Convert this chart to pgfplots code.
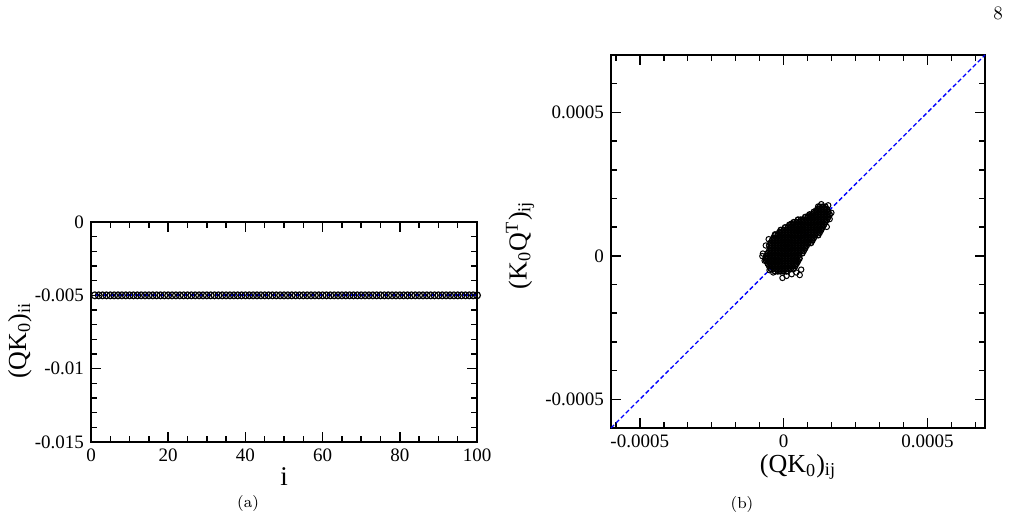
\documentclass[border=0pt]{standalone}
\usepackage{fontspec}
\usepackage{pgfplots}
\pgfplotsset{compat=1.18}
\newfontfamily\tnr{Liberation Serif}

\pgfplotsset{
  panel/.style={
    scale only axis,
    anchor=south west,
    axis line style={line width=0.8pt},
    every tick/.style={black,line width=0.75pt},
    major tick length=5pt,
    minor tick length=2.8pt,
    tick align=inside,
    scaled ticks=false,
    clip=false,
    /pgf/number format/assume math mode=true,
    ticklabel style={font=\tnr\fontsize{9.5}{11}\selectfont},
    label style={font=\tnr\fontsize{13}{15}\selectfont},
  }
}

\begin{document}
\begin{tikzpicture}
\path[use as bounding box] (0pt,0pt) rectangle (505pt,259pt);

% (a) diagonal elements
\begin{axis}[panel,
  at={(45.5pt,38pt)}, width=193pt, height=110pt,
  xmin=0, xmax=100, ymin=-0.015, ymax=0,
  xtick={0,20,40,60,80,100},
  xticklabels={0,20,40,60,80,100},
  minor x tick num=3,
  ytick={-0.015,-0.01,-0.005,0},
  yticklabels={-0.015,-0.01,-0.005,0},
  minor y tick num=4,
  xlabel={i},
  xlabel style={font=\tnr\fontsize{13.5}{15}\selectfont,
    at={(axis description cs:0.5,-0.155)}, anchor=center},
  ylabel={(QK\textsubscript{0})\textsubscript{ii}},
  ylabel style={at={(axis description cs:-0.184,0.46)}, anchor=center},
]
\addplot[only marks, mark=o, mark size=1.7pt, mark options={line width=0.6pt, black}]
coordinates {
(1,-0.005) (2,-0.005) (3,-0.005) (4,-0.005) (5,-0.005) (6,-0.005) (7,-0.005) (8,-0.005) (9,-0.005) (10,-0.005)
(11,-0.005) (12,-0.005) (13,-0.005) (14,-0.005) (15,-0.005) (16,-0.005) (17,-0.005) (18,-0.005) (19,-0.005) (20,-0.005)
(21,-0.005) (22,-0.005) (23,-0.005) (24,-0.005) (25,-0.005) (26,-0.005) (27,-0.005) (28,-0.005) (29,-0.005) (30,-0.005)
(31,-0.005) (32,-0.005) (33,-0.005) (34,-0.005) (35,-0.005) (36,-0.005) (37,-0.005) (38,-0.005) (39,-0.005) (40,-0.005)
(41,-0.005) (42,-0.005) (43,-0.005) (44,-0.005) (45,-0.005) (46,-0.005) (47,-0.005) (48,-0.005) (49,-0.005) (50,-0.005)
(51,-0.005) (52,-0.005) (53,-0.005) (54,-0.005) (55,-0.005) (56,-0.005) (57,-0.005) (58,-0.005) (59,-0.005) (60,-0.005)
(61,-0.005) (62,-0.005) (63,-0.005) (64,-0.005) (65,-0.005) (66,-0.005) (67,-0.005) (68,-0.005) (69,-0.005) (70,-0.005)
(71,-0.005) (72,-0.005) (73,-0.005) (74,-0.005) (75,-0.005) (76,-0.005) (77,-0.005) (78,-0.005) (79,-0.005) (80,-0.005)
(81,-0.005) (82,-0.005) (83,-0.005) (84,-0.005) (85,-0.005) (86,-0.005) (87,-0.005) (88,-0.005) (89,-0.005) (90,-0.005)
(91,-0.005) (92,-0.005) (93,-0.005) (94,-0.005) (95,-0.005) (96,-0.005) (97,-0.005) (98,-0.005) (99,-0.005) (100,-0.005)
};
\addplot[blue, line width=1pt, dash pattern=on 2.5pt off 1.5pt]
coordinates {(1,-0.005) (100,-0.005)};
\end{axis}

% (b) off-diagonal elements against the transposed product
\begin{axis}[panel,
  at={(305.5pt,45pt)}, width=187pt, height=186.5pt,
  xmin=-0.0006, xmax=0.0007, ymin=-0.0006, ymax=0.0007,
  xtick={-0.0005,0,0.0005},
  xticklabels={-0.0005,0,0.0005},
  minor xtick={-0.00058333,-0.00041667,-0.00033333,-0.00025,-0.00016667,-0.00008333,
               0.00008333,0.00016667,0.00025,0.00033333,0.00041667,0.00058333,0.00066667},
  ytick={-0.0005,0,0.0005},
  yticklabels={-0.0005,0,0.0005},
  minor ytick={-0.0004,-0.0003,-0.0002,-0.0001,0.0001,0.0002,0.0003,0.0004,0.0006},
  xlabel={(QK\textsubscript{0})\textsubscript{ij}},
  xlabel style={at={(axis description cs:0.5,-0.1046)}, anchor=center},
  ylabel={(K\textsubscript{0}Q\textsuperscript{T})\textsubscript{ij}},
  ylabel style={at={(axis description cs:-0.243,0.49)}, anchor=center},
]
\addplot[only marks, mark=o, mark size=1.35pt, mark options={line width=0.7pt, black}]
coordinates {
(-30e-6,-54e-6) (-20e-6,-54e-6) (-10e-6,-54e-6) (0e-6,-54e-6) (10e-6,-54e-6)
(-45e-6,-45e-6) (-35e-6,-45e-6) (-25e-6,-45e-6) (-15e-6,-45e-6) (-5e-6,-45e-6) (5e-6,-45e-6) (15e-6,-45e-6) (25e-6,-45e-6) (35e-6,-45e-6)
(-50e-6,-36e-6) (-40e-6,-36e-6) (-30e-6,-36e-6) (-20e-6,-36e-6) (-10e-6,-36e-6) (0e-6,-36e-6) (10e-6,-36e-6) (20e-6,-36e-6) (30e-6,-36e-6) (40e-6,-36e-6)
(-55e-6,-27e-6) (-45e-6,-27e-6) (-35e-6,-27e-6) (-25e-6,-27e-6) (-15e-6,-27e-6) (-5e-6,-27e-6) (5e-6,-27e-6) (15e-6,-27e-6) (25e-6,-27e-6) (35e-6,-27e-6) (45e-6,-27e-6)
(-60e-6,-18e-6) (-50e-6,-18e-6) (-40e-6,-18e-6) (-30e-6,-18e-6) (-20e-6,-18e-6) (-10e-6,-18e-6) (0e-6,-18e-6) (10e-6,-18e-6) (20e-6,-18e-6) (30e-6,-18e-6) (40e-6,-18e-6) (50e-6,-18e-6)
(-63e-6,-9e-6) (-55e-6,-9e-6) (-45e-6,-9e-6) (-35e-6,-9e-6) (-25e-6,-9e-6) (-15e-6,-9e-6) (-5e-6,-9e-6) (5e-6,-9e-6) (15e-6,-9e-6) (25e-6,-9e-6) (35e-6,-9e-6) (45e-6,-9e-6) (55e-6,-9e-6)
(-60e-6,0e-6) (-50e-6,0e-6) (-40e-6,0e-6) (-30e-6,0e-6) (-20e-6,0e-6) (-10e-6,0e-6) (0e-6,0e-6) (10e-6,0e-6) (20e-6,0e-6) (30e-6,0e-6) (40e-6,0e-6) (50e-6,0e-6)
(-55e-6,9e-6) (-45e-6,9e-6) (-35e-6,9e-6) (-25e-6,9e-6) (-15e-6,9e-6) (-5e-6,9e-6) (5e-6,9e-6) (15e-6,9e-6) (25e-6,9e-6) (35e-6,9e-6) (45e-6,9e-6) (55e-6,9e-6) (65e-6,9e-6)
(-50e-6,18e-6) (-40e-6,18e-6) (-30e-6,18e-6) (-20e-6,18e-6) (-10e-6,18e-6) (0e-6,18e-6) (10e-6,18e-6) (20e-6,18e-6) (30e-6,18e-6) (40e-6,18e-6) (50e-6,18e-6) (60e-6,18e-6) (70e-6,18e-6)
(-45e-6,27e-6) (-35e-6,27e-6) (-25e-6,27e-6) (-15e-6,27e-6) (-5e-6,27e-6) (5e-6,27e-6) (15e-6,27e-6) (25e-6,27e-6) (35e-6,27e-6) (45e-6,27e-6) (55e-6,27e-6) (65e-6,27e-6) (75e-6,27e-6)
(-50e-6,36e-6) (-40e-6,36e-6) (-30e-6,36e-6) (-20e-6,36e-6) (-10e-6,36e-6) (0e-6,36e-6) (10e-6,36e-6) (20e-6,36e-6) (30e-6,36e-6) (40e-6,36e-6) (50e-6,36e-6) (60e-6,36e-6) (70e-6,36e-6) (80e-6,36e-6)
(-45e-6,45e-6) (-35e-6,45e-6) (-25e-6,45e-6) (-15e-6,45e-6) (-5e-6,45e-6) (5e-6,45e-6) (15e-6,45e-6) (25e-6,45e-6) (35e-6,45e-6) (45e-6,45e-6) (55e-6,45e-6) (65e-6,45e-6) (75e-6,45e-6) (85e-6,45e-6) (95e-6,45e-6)
(-40e-6,54e-6) (-30e-6,54e-6) (-20e-6,54e-6) (-10e-6,54e-6) (0e-6,54e-6) (10e-6,54e-6) (20e-6,54e-6) (30e-6,54e-6) (40e-6,54e-6) (50e-6,54e-6) (60e-6,54e-6) (70e-6,54e-6) (80e-6,54e-6) (90e-6,54e-6) (100e-6,54e-6)
(-35e-6,63e-6) (-25e-6,63e-6) (-15e-6,63e-6) (-5e-6,63e-6) (5e-6,63e-6) (15e-6,63e-6) (25e-6,63e-6) (35e-6,63e-6) (45e-6,63e-6) (55e-6,63e-6) (65e-6,63e-6) (75e-6,63e-6) (85e-6,63e-6) (95e-6,63e-6) (105e-6,63e-6)
(-30e-6,72e-6) (-20e-6,72e-6) (-10e-6,72e-6) (0e-6,72e-6) (10e-6,72e-6) (20e-6,72e-6) (30e-6,72e-6) (40e-6,72e-6) (50e-6,72e-6) (60e-6,72e-6) (70e-6,72e-6) (80e-6,72e-6) (90e-6,72e-6) (100e-6,72e-6) (110e-6,72e-6) (120e-6,72e-6)
(-15e-6,81e-6) (-5e-6,81e-6) (5e-6,81e-6) (15e-6,81e-6) (25e-6,81e-6) (35e-6,81e-6) (45e-6,81e-6) (55e-6,81e-6) (65e-6,81e-6) (75e-6,81e-6) (85e-6,81e-6) (95e-6,81e-6) (105e-6,81e-6) (115e-6,81e-6) (125e-6,81e-6)
(-10e-6,90e-6) (0e-6,90e-6) (10e-6,90e-6) (20e-6,90e-6) (30e-6,90e-6) (40e-6,90e-6) (50e-6,90e-6) (60e-6,90e-6) (70e-6,90e-6) (80e-6,90e-6) (90e-6,90e-6) (100e-6,90e-6) (110e-6,90e-6) (120e-6,90e-6) (130e-6,90e-6)
(5e-6,99e-6) (15e-6,99e-6) (25e-6,99e-6) (35e-6,99e-6) (45e-6,99e-6) (55e-6,99e-6) (65e-6,99e-6) (75e-6,99e-6) (85e-6,99e-6) (95e-6,99e-6) (105e-6,99e-6) (115e-6,99e-6) (125e-6,99e-6) (135e-6,99e-6)
(20e-6,108e-6) (30e-6,108e-6) (40e-6,108e-6) (50e-6,108e-6) (60e-6,108e-6) (70e-6,108e-6) (80e-6,108e-6) (90e-6,108e-6) (100e-6,108e-6) (110e-6,108e-6) (120e-6,108e-6) (130e-6,108e-6) (140e-6,108e-6)
(35e-6,117e-6) (45e-6,117e-6) (55e-6,117e-6) (65e-6,117e-6) (75e-6,117e-6) (85e-6,117e-6) (95e-6,117e-6) (105e-6,117e-6) (115e-6,117e-6) (125e-6,117e-6) (135e-6,117e-6) (145e-6,117e-6)
(50e-6,126e-6) (60e-6,126e-6) (70e-6,126e-6) (80e-6,126e-6) (90e-6,126e-6) (100e-6,126e-6) (110e-6,126e-6) (120e-6,126e-6) (130e-6,126e-6) (140e-6,126e-6) (150e-6,126e-6)
(75e-6,135e-6) (85e-6,135e-6) (95e-6,135e-6) (105e-6,135e-6) (115e-6,135e-6) (125e-6,135e-6) (135e-6,135e-6) (145e-6,135e-6) (155e-6,135e-6)
(90e-6,144e-6) (100e-6,144e-6) (110e-6,144e-6) (120e-6,144e-6) (130e-6,144e-6) (140e-6,144e-6) (150e-6,144e-6) (160e-6,144e-6)
(105e-6,153e-6) (115e-6,153e-6) (125e-6,153e-6) (135e-6,153e-6) (145e-6,153e-6) (155e-6,153e-6)
(120e-6,162e-6) (130e-6,162e-6) (140e-6,162e-6) (150e-6,162e-6)
(125e-6,171e-6) (135e-6,171e-6) (145e-6,171e-6)
};
\addplot[only marks, mark=o, mark size=1.35pt, mark options={line width=0.5pt, black}]
coordinates {
(-74e-6,-1e-6) (-72e-6,8e-6) (-66e-6,-17e-6) (-62e-6,36e-6) (-52e-6,58e-6)
(-49e-6,-50e-6) (-36e-6,-58e-6) (-4e-6,-77e-6) (10e-6,-70e-6) (28e-6,-64e-6)
(44e-6,-58e-6) (56e-6,-67e-6) (61e-6,-48e-6) (-30e-6,75e-6) (-14e-6,83e-6)
(27e-6,112e-6) (84e-6,138e-6) (96e-6,141e-6) (113e-6,159e-6) (120e-6,172e-6)
(131e-6,180e-6) (155e-6,176e-6) (166e-6,150e-6) (160e-6,128e-6) (150e-6,101e-6)
};
\addplot[blue, line width=0.65pt, dash pattern=on 2.2pt off 1.3pt]
coordinates {(-0.0006,-0.0006) (0.0007,0.0007)};
\end{axis}

\node[font=\fontsize{8}{9}\selectfont] at (124pt,7pt) {(a)};
\node[font=\fontsize{8}{9}\selectfont] at (371pt,6.5pt) {(b)};
\node[font=\fontsize{9.5}{11}\selectfont] at (499pt,252.5pt) {8};
\end{tikzpicture}
\end{document}
